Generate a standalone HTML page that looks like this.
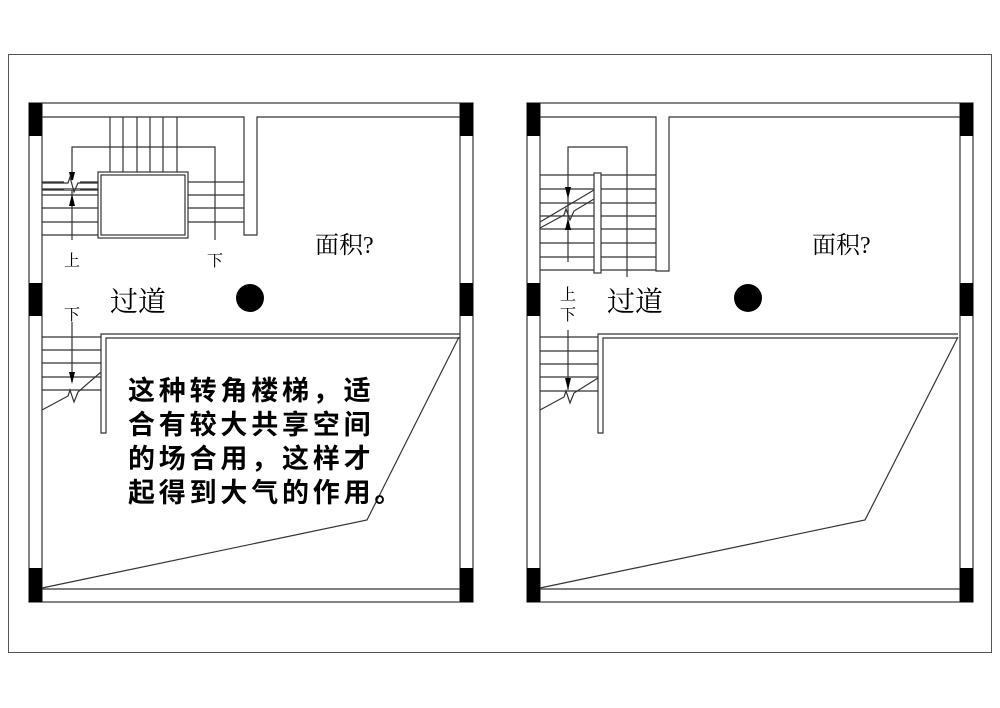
<!DOCTYPE html>
<html><head><meta charset="utf-8"><style>
html,body{margin:0;padding:0;background:#fff}
svg{display:block}
text{font-family:"Liberation Sans","Noto Sans CJK SC",sans-serif}
.s{font-family:"Liberation Serif","Noto Serif CJK SC",serif}
</style></head><body>
<svg width="1000" height="708" viewBox="0 0 1000 708" xmlns="http://www.w3.org/2000/svg">
<rect x="8.5" y="54.5" width="983" height="598" fill="none" stroke="#555" stroke-width="1"/>
<g id="L" fill="none" stroke="#333" stroke-width="1.2">
 <rect x="29" y="103" width="444" height="499"/>
 <line x1="42" y1="103" x2="42" y2="602"/>
 <line x1="460" y1="103" x2="460" y2="602"/>
 <line x1="29" y1="589" x2="473" y2="589"/>
 <polyline points="42,117 244,117 244,235 257,235 257,117 460,117"/>
 <g>
  <line x1="110" y1="117" x2="110" y2="172"/><line x1="123" y1="117" x2="123" y2="172"/>
  <line x1="137" y1="117" x2="137" y2="172"/><line x1="150" y1="117" x2="150" y2="172"/>
  <line x1="163" y1="117" x2="163" y2="172"/><line x1="177" y1="117" x2="177" y2="172"/>
  <line x1="42" y1="182" x2="98" y2="182"/><line x1="42" y1="190" x2="98" y2="190"/>
  <line x1="42" y1="195" x2="98" y2="195"/><line x1="42" y1="208" x2="98" y2="208"/>
  <line x1="42" y1="222" x2="98" y2="222"/><line x1="42" y1="235" x2="98" y2="235"/>
  <line x1="188" y1="182" x2="244" y2="182"/><line x1="188" y1="195" x2="244" y2="195"/>
  <line x1="188" y1="208" x2="244" y2="208"/><line x1="188" y1="222" x2="244" y2="222"/>
 </g>
 <rect x="98" y="172" width="90" height="66"/>
 <rect x="101" y="175" width="84" height="60"/>
 <polyline points="72,240 72,147 215,147 215,240"/>
 <line x1="42" y1="337" x2="101" y2="337"/><line x1="42" y1="350" x2="101" y2="350"/>
 <line x1="42" y1="363" x2="101" y2="363"/><line x1="42" y1="377" x2="101" y2="377"/>
 <line x1="42" y1="390" x2="101" y2="390"/>
 <polyline points="460,334 101,334 101,433 106,433 106,338 460,338"/>
 <polyline points="42,410 68,396 70,390 74,402 78,392 101,372"/>
 <line x1="72" y1="322" x2="72" y2="382"/>
 <polyline points="459,337 367,520 42,588"/>
</g>
<g fill="#000">
 <rect x="29" y="103" width="13" height="33"/><rect x="460" y="103" width="13" height="33"/>
 <rect x="29" y="283" width="13" height="33"/><rect x="460" y="283" width="13" height="33"/>
 <rect x="29" y="568" width="13" height="34"/><rect x="460" y="568" width="13" height="34"/>
 <polygon points="69,172 75,172 72,184"/><polygon points="69,206 75,206 72,194"/>
 <polygon points="69,372 75,372 72,384"/>
 <rect x="64" y="180" width="16" height="10" fill="#fff"/>
 <circle cx="250" cy="298" r="14"/>
</g>
<polyline points="42,183 68,183 70,177 74,192 78,183 98,183" fill="none" stroke="#333" stroke-width="1.2"/>
<polyline points="42,189 98,189" fill="none" stroke="#333" stroke-width="1.2"/>
<text class="s" x="72" y="266" font-size="16" text-anchor="middle">上</text>
<text class="s" x="215" y="266" font-size="16" text-anchor="middle">下</text>
<text class="s" x="72" y="320" font-size="16" text-anchor="middle">下</text>
<text class="s" x="110" y="311" font-size="28">过道</text>
<text class="s" x="315" y="253" font-size="24">面积?</text>
<g font-size="27" font-weight="bold" letter-spacing="3.8">
 <text x="128" y="400">这种转角楼梯，适</text>
 <text x="128" y="434">合有较大共享空间</text>
 <text x="128" y="468">的场合用，这样才</text>
 <text x="128" y="502">起得到大气的作用。</text>
</g>

<g fill="none" stroke="#333" stroke-width="1.2">
 <rect x="527" y="103" width="446" height="499"/>
 <line x1="540" y1="103" x2="540" y2="602"/>
 <line x1="960" y1="103" x2="960" y2="602"/>
 <line x1="527" y1="589" x2="973" y2="589"/>
 <polyline points="540,117 656,117 656,271 669,271 669,117 960,117"/>
 <line x1="540" y1="175" x2="656" y2="175"/><line x1="540" y1="189" x2="656" y2="189"/>
 <line x1="540" y1="203" x2="656" y2="203"/><line x1="540" y1="216" x2="656" y2="216"/>
 <line x1="540" y1="229" x2="656" y2="229"/><line x1="540" y1="243" x2="656" y2="243"/>
 <line x1="540" y1="257" x2="656" y2="257"/><line x1="540" y1="270" x2="656" y2="270"/>
 <polyline points="568,262 568,147 627,147 627,277"/>
 <line x1="568" y1="330" x2="568" y2="390"/>
 <polyline points="540,228 564,215 566,209 570,220 574,211 594,199"/>
 <polyline points="540,222 594,190"/>
 <line x1="540" y1="337" x2="598" y2="337"/><line x1="540" y1="351" x2="598" y2="351"/>
 <line x1="540" y1="364" x2="598" y2="364"/><line x1="540" y1="377" x2="598" y2="377"/>
 <line x1="540" y1="391" x2="598" y2="391"/>
 <polyline points="958,334 598,334 598,433 603,433 603,338 958,338"/>
 <polyline points="540,410 564,397 566,391 570,403 574,393 598,378"/>
 <polyline points="958,337 865,520 540,588"/>
</g>
<rect x="594" y="173" width="7" height="100" fill="#fff" stroke="#333" stroke-width="1.2"/>
<g fill="#000">
 <rect x="527" y="103" width="13" height="33"/><rect x="960" y="103" width="13" height="33"/>
 <rect x="527" y="283" width="13" height="33"/><rect x="960" y="283" width="13" height="33"/>
 <rect x="527" y="568" width="13" height="34"/><rect x="960" y="568" width="13" height="34"/>
 <polygon points="565,187 571,187 568,199"/><polygon points="565,230 571,230 568,218"/>
 <polygon points="565,378 571,378 568,390"/>
 <circle cx="748" cy="298" r="14"/>
</g>
<text class="s" x="568" y="300" font-size="16" text-anchor="middle">上</text>
<text class="s" x="568" y="320" font-size="16" text-anchor="middle">下</text>
<text class="s" x="607" y="311" font-size="28">过道</text>
<text class="s" x="812" y="253" font-size="24">面积?</text>
</svg>
</body></html>
